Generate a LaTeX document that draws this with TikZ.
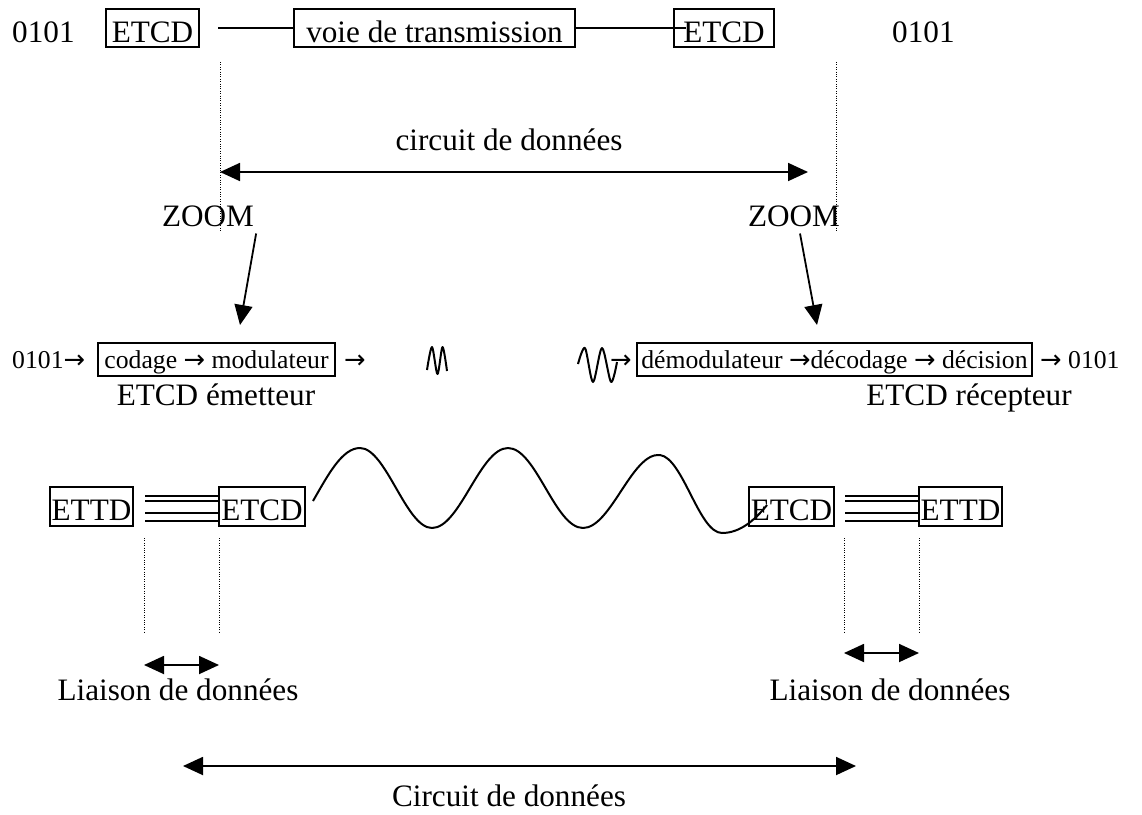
\documentclass[tikz,border=0pt]{standalone}
\usepackage{fontspec}
\setmainfont{Liberation Serif}
\newfontfamily\arrowfont{DejaVu Sans}
\newcommand{\ra}{{\arrowfont →}}
\usetikzlibrary{arrows.meta}

\begin{document}
\begin{tikzpicture}[x=1pt,y=-1pt,>={Triangle[length=20pt,width=18pt]},
  big/.style={font=\fontsize{31.2}{36}\selectfont},
  small/.style={font=\fontsize{25.7}{30}\selectfont},
  box/.style={draw,line width=2pt,inner xsep=0pt,inner ysep=1pt,text height=32pt,text depth=4pt,big},
  sbox/.style={draw,line width=2pt,inner xsep=0pt,inner ysep=4pt,text height=21pt,text depth=4pt,small},
  txt/.style={anchor=base west,inner sep=0pt},
  lbl/.style={anchor=base,inner sep=0pt,big},
  link/.style={line width=1.8pt},
  wave/.style={line width=2pt,line join=round},
  guide/.style={line width=0.9pt,dash pattern=on 1pt off 1.4pt},
  dim/.style={line width=1.8pt,<->}]
\useasboundingbox (0,0) rectangle (1142,814);
\node[txt,big] (bitsA) at (12,42) {0101};
\node[box,minimum width=93pt] (etcdA) at (152.5,28) {ETCD};
\node[box,minimum width=281pt] (voie) at (434.5,28) {voie de transmission};
\node[box,minimum width=100pt] (etcdB) at (724,28) {ETCD};
\node[txt,big] (bitsB) at (892,42) {0101};
\draw[link] ([xshift=18pt]etcdA.east) -- (voie.west);
\draw[link] (voie.east) -- ([xshift=13pt]etcdB.west);
\draw[guide] (220,62) -- (220,232);
\draw[guide] (836,62) -- (836,232);
\node[lbl] (circA) at (509,150) {circuit de données};
\coordinate (cA) at (220,172);
\coordinate (cB) at (808,172);
\draw[dim] (cA) -- (cB);
\node[lbl] (zoomA) at (208,226) {ZOOM};
\node[lbl] (zoomB) at (794,226) {ZOOM};
\node[txt,small] (inA) at (12,368) {0101\ra};
\node[sbox,minimum width=237pt] (cod) at (216.5,359.5) {codage \ra{} modulateur};
\node[txt,small] (outA) at (344,368) {\ra};
\node[txt,small] (inB) at (610,368) {\ra};
\node[sbox,minimum width=395pt] (dec) at (834.5,359.5) {démodulateur \ra décodage \ra{} décision};
\node[txt,small] (outB) at (1040,368) {\ra{} 0101};
\coordinate (zA) at (240,325);
\coordinate (zB) at (817,325);
\draw[link,->] ([xshift=2pt,yshift=-7pt]zoomA.south east) -- (zA);
\draw[link,->] ([xshift=6pt,yshift=-7pt]zoomB.south) -- (zB);
\draw[wave] plot[smooth] coordinates {(427,370) (432,347) (437.5,374) (442.5,347) (447,371)};
\draw[wave] plot[smooth] coordinates {(578,364) (585,348) (593,382) (602,348) (611,382) (617,362)};
\node[lbl] (emet) at (216,405) {ETCD émetteur};
\node[lbl] (recep) at (969,405) {ETCD récepteur};
\node[box,minimum width=83pt,minimum height=39pt] (ettdA) at (91.5,506.5) {ETTD};
\node[box,minimum width=86pt,minimum height=39pt] (etcdC) at (262,506.5) {ETCD};
\node[box,minimum width=85pt,minimum height=39pt] (etcdD) at (791.5,506.5) {ETCD};
\node[box,minimum width=83pt,minimum height=39pt] (ettdB) at (960.5,506.5) {ETTD};
\foreach \dy in {10.5,5.5,-6.5,-14.5} {
  \draw[link] ([xshift=11pt,yshift=\dy pt]ettdA.east) -- ([yshift=\dy pt]etcdC.west);
  \draw[link] ([xshift=10pt,yshift=\dy pt]etcdD.east) -- ([yshift=\dy pt]ettdB.west);
}
\draw[wave] (313,501) .. controls (328,475) and (342,448) .. (360,448)
  .. controls (386,448) and (406,528) .. (432,528)
  .. controls (460,528) and (480,448) .. (508,448)
  .. controls (536,448) and (555,528) .. (583,528)
  .. controls (611,528) and (632,452) .. (660,455)
  .. controls (683,458) and (699,533) .. (722,533)
  .. controls (740,533) and (755,520) .. (767,505);
\draw[guide] (144,538) -- (144,632);
\draw[guide] (219,538) -- (219,632);
\draw[guide] (844,538) -- (844,632);
\draw[guide] (919,538) -- (919,632);
\coordinate (lA) at (144,665);
\coordinate (lB) at (219,665);
\coordinate (lC) at (844,653);
\coordinate (lD) at (919,653);
\draw[dim] (lA) -- (lB);
\draw[dim] (lC) -- (lD);
\node[lbl] (liaA) at (178,700) {Liaison de données};
\node[lbl] (liaB) at (890,700) {Liaison de données};
\coordinate (bA) at (183,766);
\coordinate (bB) at (856,766);
\draw[dim] (bA) -- (bB);
\node[lbl] (circB) at (509,806) {Circuit de données};
\end{tikzpicture}
\end{document}
